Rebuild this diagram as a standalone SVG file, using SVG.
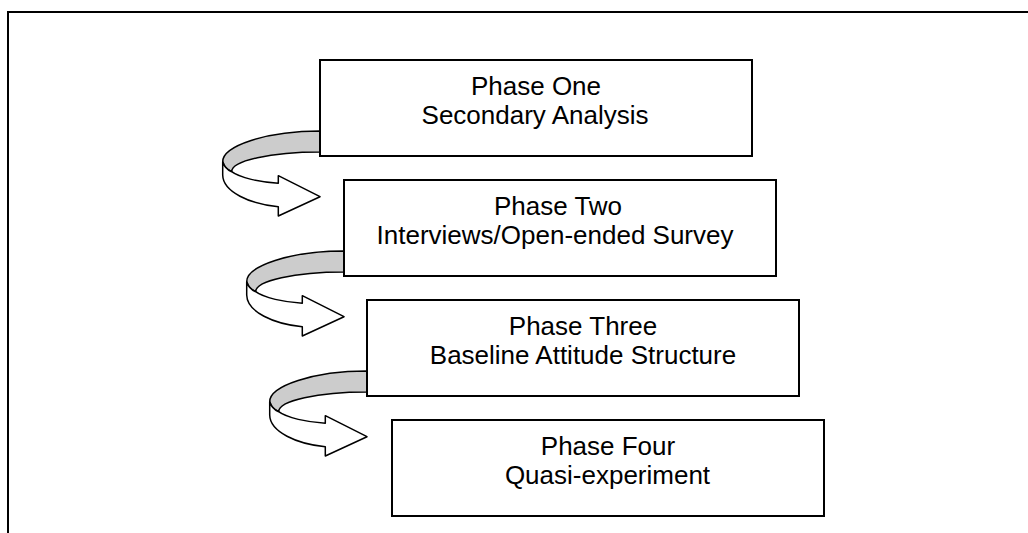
<svg xmlns="http://www.w3.org/2000/svg" width="1028" height="533" viewBox="0 0 1028 533">
<style>
.frame{fill:none;stroke:#000;stroke-width:2}
.box{fill:#fff;stroke:#000;stroke-width:2}
.t{font-family:"Liberation Sans",Arial,sans-serif;font-size:26px;fill:#000;text-anchor:middle}
.back{fill:#cccccc;stroke:#000;stroke-width:1.5;stroke-linejoin:round}
.front{fill:#fff;stroke:#000;stroke-width:1.5;stroke-linejoin:round}
</style>
<defs>
<g id="curl">
<path class="back" d="M320,131 C266,131 222.7,146 222.7,161.7 Q225,169 231.7,171.7 C231.7,160.7 271,152 320,152 Z"/>
<path class="front" d="M222.7,161.7 Q225,169 231.7,171.7 C240,178 260,182 278.3,183.3 L278.3,175.7 L320,196.7 L278.3,216 L278.3,206.7 C250,204 223,192 222.7,175 Z"/>
</g>
</defs>
<rect class="frame" x="8" y="12" width="1100" height="600"/>
<g id="connectors">
<use href="#curl"/>
<use href="#curl" transform="translate(24,120)"/>
<use href="#curl" transform="translate(47,240)"/>
</g>
<g id="phase1">
<rect class="box" x="320" y="60" width="432" height="96"/>
<text class="t" x="536" y="94.5">Phase One</text>
<text class="t" x="535" y="124">Secondary Analysis</text>
</g>
<g id="phase2">
<rect class="box" x="344" y="180" width="432" height="96"/>
<text class="t" x="558" y="214.5">Phase Two</text>
<text class="t" x="555" y="244">Interviews/Open-ended Survey</text>
</g>
<g id="phase3">
<rect class="box" x="367" y="300" width="432" height="96"/>
<text class="t" x="583" y="334.5">Phase Three</text>
<text class="t" x="583" y="364">Baseline Attitude Structure</text>
</g>
<g id="phase4">
<rect class="box" x="392" y="420" width="432" height="96"/>
<text class="t" x="608" y="454.5">Phase Four</text>
<text class="t" x="607.5" y="484">Quasi-experiment</text>
</g>
</svg>
